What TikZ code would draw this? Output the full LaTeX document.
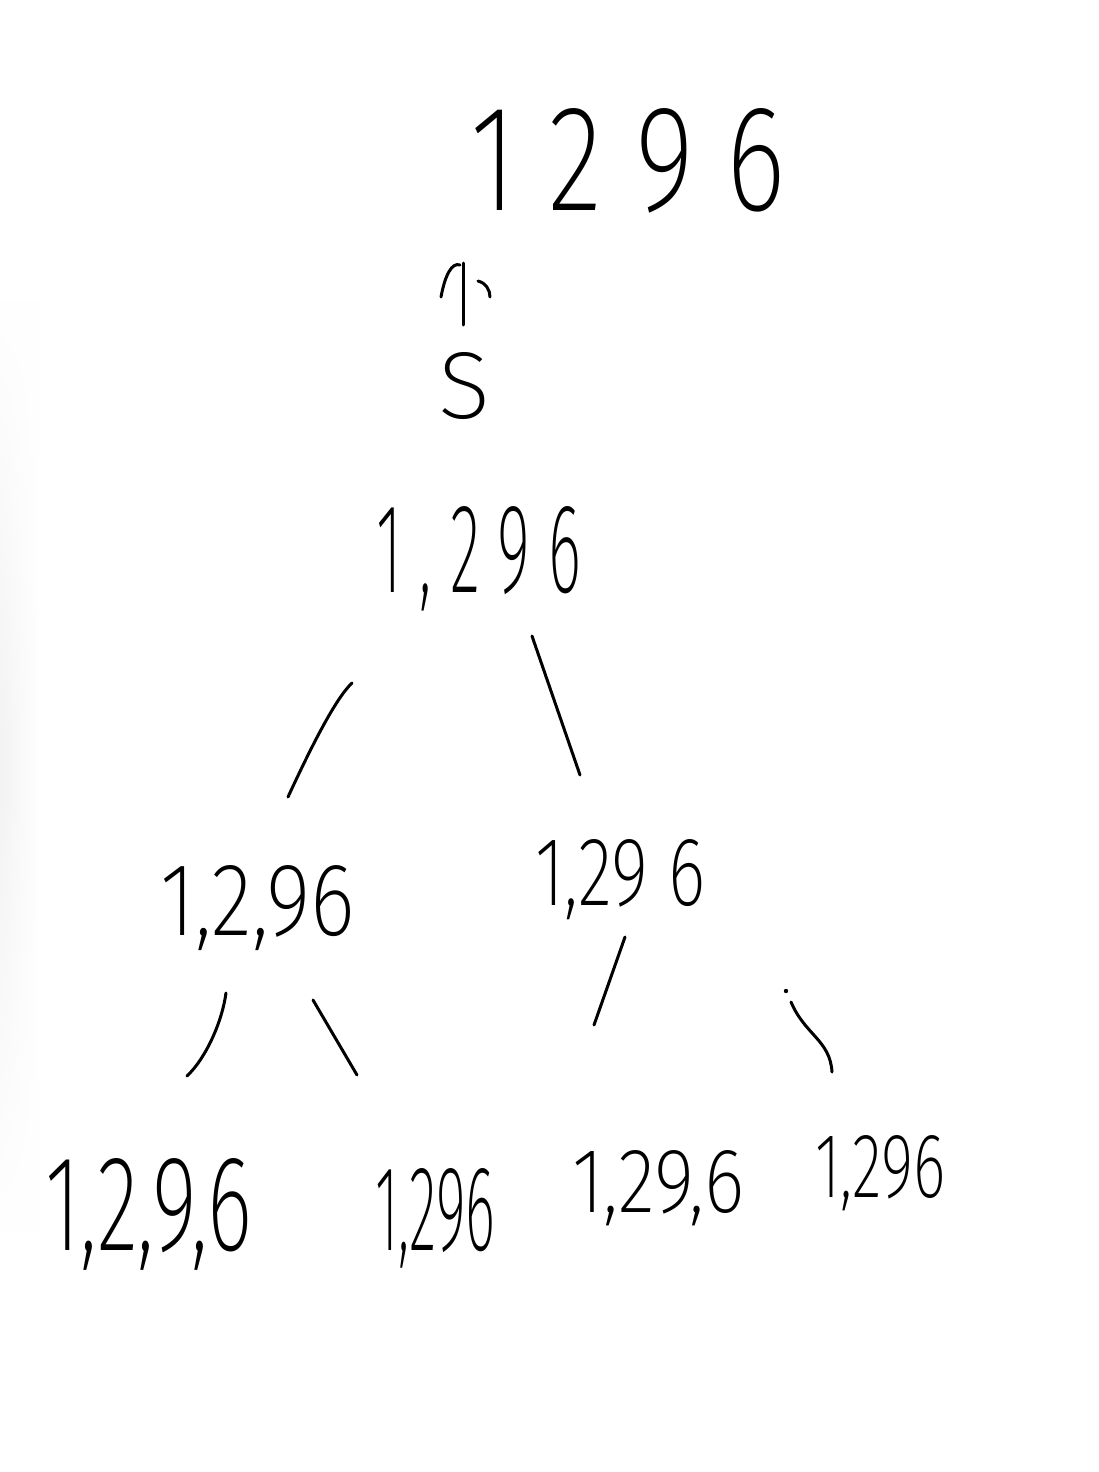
\documentclass[tikz,border=0pt]{standalone}
\usepackage{fontspec}
\usepackage{graphicx}
\usetikzlibrary{fadings}
\IfFontExistsTF{Fira Sans ExtraLight}{\newfontfamily\handfont{Fira Sans ExtraLight}}{%
  \IfFontExistsTF{Fira Sans Thin}{\newfontfamily\handfont{Fira Sans Thin}}{\newfontfamily\handfont{Fira Sans}}}
\newcommand\fitbox[3]{\resizebox{#1pt}{#2pt}{#3}}
\tikzset{
  lab/.style={inner sep=0pt, anchor=base west, font=\handfont},
  stroke/.style={line width=3pt, line cap=round, line join=round, black},
}
\tikzfading[name=vfade, top color=transparent!100, bottom color=transparent!100, middle color=transparent!0]
\begin{document}
\begin{tikzpicture}[x=1pt,y=-1pt]
\useasboundingbox (0,0) rectangle (1098,1472);
\fill[white] (0,0) rectangle (1098,1472);
\begin{scope}
\shade[left color=black!5, right color=white, path fading=vfade] (0,300) rectangle (40,1230);
\end{scope}

% labels
\node[lab] (top)  at (470,210)  {\fitbox{315}{102}{1 2 9 6}};
\node[lab] (s)    at (438,418)  {\fitbox{52}{66}{S}};
\node[lab] (root) at (376,592)  {\fitbox{205}{86}{1 , 2 9 6}};
\node[lab] (l)    at (160,935)  {\fitbox{195}{70}{1,2,96}};
\node[lab] (r)    at (535,905)  {\fitbox{170}{66}{1,29 6}};
\node[lab] (ll)   at (45,1250)  {\fitbox{207}{92}{1,2,9,6}};
\node[lab] (lr)   at (375,1250) {\fitbox{120}{82}{1,296}};
\node[lab] (rl)   at (572,1212) {\fitbox{172}{62}{1,29,6}};
\node[lab] (rr)   at (815,1197) {\fitbox{130}{62}{1,296}};

% arrow from S up to the top row
\coordinate (ab) at (463,325);
\coordinate (at) at (463,263);
\coordinate (bl) at (441,297);
\coordinate (br1) at (478,281);
\coordinate (br2) at (490,297);
\draw[stroke] (ab) -- (at);
\draw[stroke] (bl) .. controls (445,275) and (452,262) .. (460,265);
\draw[stroke] (br1) .. controls (486,283) and (490,290) .. (br2);

% tree strokes
\coordinate (e1a) at (352,683); \coordinate (e1b) at (288,797);
\coordinate (e2a) at (532,636); \coordinate (e2b) at (580,775);
\coordinate (e3a) at (226,993); \coordinate (e3b) at (187,1076);
\coordinate (e4a) at (313,1000); \coordinate (e4b) at (357,1075);
\coordinate (e5a) at (625,937); \coordinate (e5b) at (594,1025);
\coordinate (e6a) at (791,1002); \coordinate (e6b) at (832,1072);
\coordinate (dot) at (786,991);

\draw[stroke] (e1a) .. controls (336,698) and (312,745) .. (e1b);
\draw[stroke] (e2a) -- (e2b);
\draw[stroke] (e3a) .. controls (222,1022) and (206,1058) .. (e3b);
\draw[stroke] (e4a) -- (e4b);
\draw[stroke] (e5a) -- (e5b);
\draw[stroke] (e6a) .. controls (805,1035) and (830,1040) .. (e6b);
\fill (dot) circle (2.2pt);
\end{tikzpicture}
\end{document}
